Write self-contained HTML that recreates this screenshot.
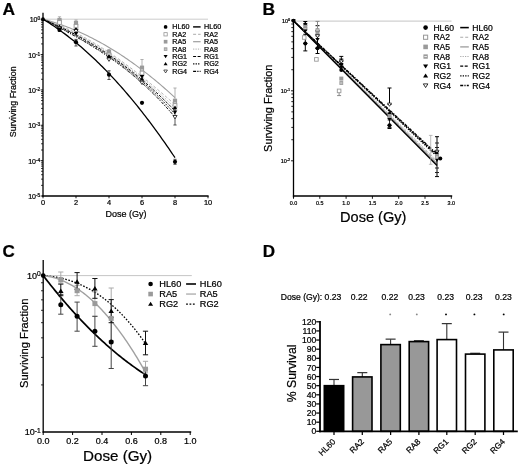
<!DOCTYPE html>
<html><head><meta charset="utf-8"><style>
html,body{margin:0;padding:0;background:#fff;}
svg{display:block;will-change:transform;}
text{font-family:"Liberation Sans",sans-serif;stroke:#000;stroke-width:0.22px;}
</style></head><body>
<svg width="520" height="467" viewBox="0 0 520 467" font-family="Liberation Sans, sans-serif">
<rect width="520" height="467" fill="#fff"/>
<line x1="43.00" y1="19.20" x2="208.00" y2="19.20" stroke="#c0c0c0" stroke-width="0.8" />
<line x1="43.00" y1="12.80" x2="43.00" y2="196.60" stroke="#000" stroke-width="1.3" />
<line x1="42.30" y1="196.00" x2="208.60" y2="196.00" stroke="#000" stroke-width="1.3" />
<line x1="43.00" y1="196.00" x2="43.00" y2="198.30" stroke="#000" stroke-width="0.9" />
<text x="43.00" y="205.40" font-size="7.4" text-anchor="middle" fill="#000" >0</text>
<line x1="76.00" y1="196.00" x2="76.00" y2="198.30" stroke="#000" stroke-width="0.9" />
<text x="76.00" y="205.40" font-size="7.4" text-anchor="middle" fill="#000" >2</text>
<line x1="109.00" y1="196.00" x2="109.00" y2="198.30" stroke="#000" stroke-width="0.9" />
<text x="109.00" y="205.40" font-size="7.4" text-anchor="middle" fill="#000" >4</text>
<line x1="142.00" y1="196.00" x2="142.00" y2="198.30" stroke="#000" stroke-width="0.9" />
<text x="142.00" y="205.40" font-size="7.4" text-anchor="middle" fill="#000" >6</text>
<line x1="175.00" y1="196.00" x2="175.00" y2="198.30" stroke="#000" stroke-width="0.9" />
<text x="175.00" y="205.40" font-size="7.4" text-anchor="middle" fill="#000" >8</text>
<line x1="208.00" y1="196.00" x2="208.00" y2="198.30" stroke="#000" stroke-width="0.9" />
<text x="208.00" y="205.40" font-size="7.4" text-anchor="middle" fill="#000" >10</text>
<line x1="40.60" y1="19.20" x2="43.00" y2="19.20" stroke="#000" stroke-width="0.9" />
<line x1="41.00" y1="43.92" x2="43.00" y2="43.92" stroke="#000" stroke-width="0.75" />
<line x1="41.00" y1="37.69" x2="43.00" y2="37.69" stroke="#000" stroke-width="0.75" />
<line x1="41.00" y1="33.27" x2="43.00" y2="33.27" stroke="#000" stroke-width="0.75" />
<line x1="41.00" y1="29.84" x2="43.00" y2="29.84" stroke="#000" stroke-width="0.75" />
<line x1="41.00" y1="27.04" x2="43.00" y2="27.04" stroke="#000" stroke-width="0.75" />
<line x1="41.00" y1="24.68" x2="43.00" y2="24.68" stroke="#000" stroke-width="0.75" />
<line x1="41.00" y1="22.63" x2="43.00" y2="22.63" stroke="#000" stroke-width="0.75" />
<line x1="41.00" y1="20.82" x2="43.00" y2="20.82" stroke="#000" stroke-width="0.75" />
<text x="40.20" y="22.14" font-size="7.0" text-anchor="end">10<tspan font-size="4.8" dy="-1.96">0</tspan></text>
<line x1="40.60" y1="54.56" x2="43.00" y2="54.56" stroke="#000" stroke-width="0.9" />
<line x1="41.00" y1="79.28" x2="43.00" y2="79.28" stroke="#000" stroke-width="0.75" />
<line x1="41.00" y1="73.05" x2="43.00" y2="73.05" stroke="#000" stroke-width="0.75" />
<line x1="41.00" y1="68.63" x2="43.00" y2="68.63" stroke="#000" stroke-width="0.75" />
<line x1="41.00" y1="65.20" x2="43.00" y2="65.20" stroke="#000" stroke-width="0.75" />
<line x1="41.00" y1="62.40" x2="43.00" y2="62.40" stroke="#000" stroke-width="0.75" />
<line x1="41.00" y1="60.04" x2="43.00" y2="60.04" stroke="#000" stroke-width="0.75" />
<line x1="41.00" y1="57.99" x2="43.00" y2="57.99" stroke="#000" stroke-width="0.75" />
<line x1="41.00" y1="56.18" x2="43.00" y2="56.18" stroke="#000" stroke-width="0.75" />
<text x="40.20" y="57.50" font-size="7.0" text-anchor="end">10<tspan font-size="4.8" dy="-1.96">-1</tspan></text>
<line x1="40.60" y1="89.92" x2="43.00" y2="89.92" stroke="#000" stroke-width="0.9" />
<line x1="41.00" y1="114.64" x2="43.00" y2="114.64" stroke="#000" stroke-width="0.75" />
<line x1="41.00" y1="108.41" x2="43.00" y2="108.41" stroke="#000" stroke-width="0.75" />
<line x1="41.00" y1="103.99" x2="43.00" y2="103.99" stroke="#000" stroke-width="0.75" />
<line x1="41.00" y1="100.56" x2="43.00" y2="100.56" stroke="#000" stroke-width="0.75" />
<line x1="41.00" y1="97.76" x2="43.00" y2="97.76" stroke="#000" stroke-width="0.75" />
<line x1="41.00" y1="95.40" x2="43.00" y2="95.40" stroke="#000" stroke-width="0.75" />
<line x1="41.00" y1="93.35" x2="43.00" y2="93.35" stroke="#000" stroke-width="0.75" />
<line x1="41.00" y1="91.54" x2="43.00" y2="91.54" stroke="#000" stroke-width="0.75" />
<text x="40.20" y="92.86" font-size="7.0" text-anchor="end">10<tspan font-size="4.8" dy="-1.96">-2</tspan></text>
<line x1="40.60" y1="125.28" x2="43.00" y2="125.28" stroke="#000" stroke-width="0.9" />
<line x1="41.00" y1="150.00" x2="43.00" y2="150.00" stroke="#000" stroke-width="0.75" />
<line x1="41.00" y1="143.77" x2="43.00" y2="143.77" stroke="#000" stroke-width="0.75" />
<line x1="41.00" y1="139.35" x2="43.00" y2="139.35" stroke="#000" stroke-width="0.75" />
<line x1="41.00" y1="135.92" x2="43.00" y2="135.92" stroke="#000" stroke-width="0.75" />
<line x1="41.00" y1="133.12" x2="43.00" y2="133.12" stroke="#000" stroke-width="0.75" />
<line x1="41.00" y1="130.76" x2="43.00" y2="130.76" stroke="#000" stroke-width="0.75" />
<line x1="41.00" y1="128.71" x2="43.00" y2="128.71" stroke="#000" stroke-width="0.75" />
<line x1="41.00" y1="126.90" x2="43.00" y2="126.90" stroke="#000" stroke-width="0.75" />
<text x="40.20" y="128.22" font-size="7.0" text-anchor="end">10<tspan font-size="4.8" dy="-1.96">-3</tspan></text>
<line x1="40.60" y1="160.64" x2="43.00" y2="160.64" stroke="#000" stroke-width="0.9" />
<line x1="41.00" y1="185.36" x2="43.00" y2="185.36" stroke="#000" stroke-width="0.75" />
<line x1="41.00" y1="179.13" x2="43.00" y2="179.13" stroke="#000" stroke-width="0.75" />
<line x1="41.00" y1="174.71" x2="43.00" y2="174.71" stroke="#000" stroke-width="0.75" />
<line x1="41.00" y1="171.28" x2="43.00" y2="171.28" stroke="#000" stroke-width="0.75" />
<line x1="41.00" y1="168.48" x2="43.00" y2="168.48" stroke="#000" stroke-width="0.75" />
<line x1="41.00" y1="166.12" x2="43.00" y2="166.12" stroke="#000" stroke-width="0.75" />
<line x1="41.00" y1="164.07" x2="43.00" y2="164.07" stroke="#000" stroke-width="0.75" />
<line x1="41.00" y1="162.26" x2="43.00" y2="162.26" stroke="#000" stroke-width="0.75" />
<text x="40.20" y="163.58" font-size="7.0" text-anchor="end">10<tspan font-size="4.8" dy="-1.96">-4</tspan></text>
<line x1="40.60" y1="196.00" x2="43.00" y2="196.00" stroke="#000" stroke-width="0.9" />
<text x="40.20" y="198.94" font-size="7.0" text-anchor="end">10<tspan font-size="4.8" dy="-1.96">-5</tspan></text>
<text transform="translate(16.2,101.8) rotate(-90)" font-size="8.85" text-anchor="middle">Surviving Fraction</text>
<text x="126.00" y="216.50" font-size="9.0" text-anchor="middle" fill="#000" >Dose (Gy)</text>
<text transform="translate(2.5,15.0) scale(1.1,1)" font-size="15.8" font-weight="bold">A</text>
<path d="M43.00,19.20 L44.65,19.74 L46.30,20.30 L47.95,20.87 L49.60,21.46 L51.25,22.06 L52.90,22.69 L54.55,23.32 L56.20,23.98 L57.85,24.64 L59.50,25.33 L61.15,26.03 L62.80,26.74 L64.45,27.47 L66.10,28.22 L67.75,28.97 L69.40,29.75 L71.05,30.54 L72.70,31.34 L74.35,32.16 L76.00,32.99 L77.65,33.84 L79.30,34.70 L80.95,35.57 L82.60,36.46 L84.25,37.36 L85.90,38.28 L87.55,39.21 L89.20,40.15 L90.85,41.10 L92.50,42.07 L94.15,43.05 L95.80,44.05 L97.45,45.06 L99.10,46.08 L100.75,47.11 L102.40,48.15 L104.05,49.21 L105.70,50.28 L107.35,51.36 L109.00,52.46 L110.65,53.56 L112.30,54.68 L113.95,55.81 L115.60,56.95 L117.25,58.10 L118.90,59.26 L120.55,60.43 L122.20,61.62 L123.85,62.82 L125.50,64.02 L127.15,65.24 L128.80,66.47 L130.45,67.71 L132.10,68.95 L133.75,70.21 L135.40,71.48 L137.05,72.76 L138.70,74.05 L140.35,75.35 L142.00,76.66 L143.65,77.97 L145.30,79.30 L146.95,80.64 L148.60,81.98 L150.25,83.34 L151.90,84.70 L153.55,86.07 L155.20,87.45 L156.85,88.84 L158.50,90.24 L160.15,91.65 L161.80,93.06 L163.45,94.48 L165.10,95.91 L166.75,97.35 L168.40,98.80 L170.05,100.25 L171.70,101.71 L173.35,103.18 L175.00,104.66" fill="none" stroke="#aaa" stroke-width="0.9" stroke-dasharray="3,2"/>
<path d="M43.00,19.20 L44.65,19.64 L46.30,20.09 L47.95,20.56 L49.60,21.04 L51.25,21.53 L52.90,22.04 L54.55,22.56 L56.20,23.09 L57.85,23.64 L59.50,24.20 L61.15,24.78 L62.80,25.37 L64.45,25.97 L66.10,26.59 L67.75,27.22 L69.40,27.86 L71.05,28.52 L72.70,29.19 L74.35,29.88 L76.00,30.58 L77.65,31.29 L79.30,32.02 L80.95,32.76 L82.60,33.51 L84.25,34.28 L85.90,35.06 L87.55,35.86 L89.20,36.66 L90.85,37.49 L92.50,38.32 L94.15,39.17 L95.80,40.04 L97.45,40.92 L99.10,41.81 L100.75,42.71 L102.40,43.63 L104.05,44.56 L105.70,45.51 L107.35,46.47 L109.00,47.44 L110.65,48.43 L112.30,49.43 L113.95,50.45 L115.60,51.48 L117.25,52.52 L118.90,53.58 L120.55,54.65 L122.20,55.73 L123.85,56.83 L125.50,57.94 L127.15,59.06 L128.80,60.20 L130.45,61.35 L132.10,62.52 L133.75,63.70 L135.40,64.89 L137.05,66.10 L138.70,67.32 L140.35,68.55 L142.00,69.80 L143.65,71.07 L145.30,72.34 L146.95,73.63 L148.60,74.93 L150.25,76.25 L151.90,77.58 L153.55,78.93 L155.20,80.28 L156.85,81.66 L158.50,83.04 L160.15,84.44 L161.80,85.85 L163.45,87.28 L165.10,88.72 L166.75,90.18 L168.40,91.64 L170.05,93.13 L171.70,94.62 L173.35,96.13 L175.00,97.65" fill="none" stroke="#9e9e9e" stroke-width="1.1"/>
<path d="M43.00,19.20 L44.65,19.82 L46.30,20.45 L47.95,21.09 L49.60,21.75 L51.25,22.42 L52.90,23.10 L54.55,23.79 L56.20,24.50 L57.85,25.21 L59.50,25.94 L61.15,26.69 L62.80,27.44 L64.45,28.21 L66.10,28.99 L67.75,29.78 L69.40,30.59 L71.05,31.41 L72.70,32.24 L74.35,33.08 L76.00,33.93 L77.65,34.80 L79.30,35.68 L80.95,36.57 L82.60,37.48 L84.25,38.39 L85.90,39.32 L87.55,40.26 L89.20,41.22 L90.85,42.18 L92.50,43.16 L94.15,44.15 L95.80,45.16 L97.45,46.17 L99.10,47.20 L100.75,48.24 L102.40,49.29 L104.05,50.36 L105.70,51.43 L107.35,52.52 L109.00,53.62 L110.65,54.74 L112.30,55.87 L113.95,57.00 L115.60,58.15 L117.25,59.32 L118.90,60.49 L120.55,61.68 L122.20,62.88 L123.85,64.09 L125.50,65.32 L127.15,66.56 L128.80,67.80 L130.45,69.07 L132.10,70.34 L133.75,71.63 L135.40,72.92 L137.05,74.23 L138.70,75.56 L140.35,76.89 L142.00,78.24 L143.65,79.60 L145.30,80.97 L146.95,82.35 L148.60,83.75 L150.25,85.16 L151.90,86.58 L153.55,88.01 L155.20,89.45 L156.85,90.91 L158.50,92.38 L160.15,93.86 L161.80,95.35 L163.45,96.86 L165.10,98.38 L166.75,99.91 L168.40,101.45 L170.05,103.00 L171.70,104.57 L173.35,106.15 L175.00,107.74" fill="none" stroke="#aaa" stroke-width="0.9" stroke-dasharray="1.2,1.2"/>
<path d="M43.00,19.20 L44.65,19.90 L46.30,20.60 L47.95,21.31 L49.60,22.04 L51.25,22.77 L52.90,23.51 L54.55,24.26 L56.20,25.02 L57.85,25.78 L59.50,26.56 L61.15,27.35 L62.80,28.14 L64.45,28.95 L66.10,29.77 L67.75,30.59 L69.40,31.43 L71.05,32.28 L72.70,33.13 L74.35,34.00 L76.00,34.88 L77.65,35.76 L79.30,36.66 L80.95,37.57 L82.60,38.49 L84.25,39.43 L85.90,40.37 L87.55,41.32 L89.20,42.29 L90.85,43.26 L92.50,44.25 L94.15,45.25 L95.80,46.27 L97.45,47.29 L99.10,48.33 L100.75,49.37 L102.40,50.43 L104.05,51.51 L105.70,52.59 L107.35,53.69 L109.00,54.80 L110.65,55.93 L112.30,57.06 L113.95,58.21 L115.60,59.37 L117.25,60.55 L118.90,61.74 L120.55,62.94 L122.20,64.16 L123.85,65.39 L125.50,66.63 L127.15,67.89 L128.80,69.16 L130.45,70.44 L132.10,71.74 L133.75,73.06 L135.40,74.39 L137.05,75.73 L138.70,77.09 L140.35,78.46 L142.00,79.85 L143.65,81.25 L145.30,82.67 L146.95,84.10 L148.60,85.55 L150.25,87.01 L151.90,88.49 L153.55,89.98 L155.20,91.49 L156.85,93.02 L158.50,94.56 L160.15,96.12 L161.80,97.69 L163.45,99.28 L165.10,100.89 L166.75,102.51 L168.40,104.15 L170.05,105.81 L171.70,107.48 L173.35,109.17 L175.00,110.88" fill="none" stroke="#000" stroke-width="0.9900000000000001" stroke-dasharray="3,1.5"/>
<path d="M43.00,19.20 L44.65,19.97 L46.30,20.75 L47.95,21.54 L49.60,22.33 L51.25,23.12 L52.90,23.92 L54.55,24.73 L56.20,25.54 L57.85,26.35 L59.50,27.18 L61.15,28.01 L62.80,28.85 L64.45,29.69 L66.10,30.54 L67.75,31.40 L69.40,32.27 L71.05,33.14 L72.70,34.03 L74.35,34.92 L76.00,35.82 L77.65,36.73 L79.30,37.65 L80.95,38.57 L82.60,39.51 L84.25,40.46 L85.90,41.41 L87.55,42.38 L89.20,43.36 L90.85,44.35 L92.50,45.35 L94.15,46.36 L95.80,47.38 L97.45,48.41 L99.10,49.45 L100.75,50.51 L102.40,51.58 L104.05,52.66 L105.70,53.75 L107.35,54.86 L109.00,55.98 L110.65,57.11 L112.30,58.26 L113.95,59.42 L115.60,60.59 L117.25,61.78 L118.90,62.98 L120.55,64.20 L122.20,65.43 L123.85,66.68 L125.50,67.94 L127.15,69.22 L128.80,70.52 L130.45,71.83 L132.10,73.15 L133.75,74.49 L135.40,75.85 L137.05,77.23 L138.70,78.62 L140.35,80.03 L142.00,81.46 L143.65,82.91 L145.30,84.37 L146.95,85.85 L148.60,87.35 L150.25,88.87 L151.90,90.41 L153.55,91.96 L155.20,93.54 L156.85,95.13 L158.50,96.75 L160.15,98.38 L161.80,100.04 L163.45,101.71 L165.10,103.41 L166.75,105.13 L168.40,106.87 L170.05,108.63 L171.70,110.41 L173.35,112.21 L175.00,114.03" fill="none" stroke="#000" stroke-width="0.9900000000000001" stroke-dasharray="1.3,1.2"/>
<path d="M43.00,19.20 L44.65,20.05 L46.30,20.91 L47.95,21.76 L49.60,22.61 L51.25,23.47 L52.90,24.33 L54.55,25.19 L56.20,26.06 L57.85,26.92 L59.50,27.79 L61.15,28.67 L62.80,29.55 L64.45,30.43 L66.10,31.32 L67.75,32.21 L69.40,33.11 L71.05,34.01 L72.70,34.92 L74.35,35.84 L76.00,36.76 L77.65,37.69 L79.30,38.63 L80.95,39.58 L82.60,40.53 L84.25,41.49 L85.90,42.46 L87.55,43.44 L89.20,44.43 L90.85,45.43 L92.50,46.44 L94.15,47.46 L95.80,48.49 L97.45,49.53 L99.10,50.58 L100.75,51.65 L102.40,52.72 L104.05,53.81 L105.70,54.91 L107.35,56.03 L109.00,57.16 L110.65,58.30 L112.30,59.46 L113.95,60.63 L115.60,61.81 L117.25,63.01 L118.90,64.23 L120.55,65.46 L122.20,66.71 L123.85,67.97 L125.50,69.26 L127.15,70.55 L128.80,71.87 L130.45,73.20 L132.10,74.56 L133.75,75.93 L135.40,77.32 L137.05,78.72 L138.70,80.15 L140.35,81.60 L142.00,83.07 L143.65,84.56 L145.30,86.07 L146.95,87.60 L148.60,89.15 L150.25,90.72 L151.90,92.32 L153.55,93.94 L155.20,95.58 L156.85,97.24 L158.50,98.93 L160.15,100.64 L161.80,102.38 L163.45,104.14 L165.10,105.93 L166.75,107.74 L168.40,109.57 L170.05,111.43 L171.70,113.32 L173.35,115.24 L175.00,117.18" fill="none" stroke="#000" stroke-width="0.9900000000000001" stroke-dasharray="3,1.2,1.2,1.2"/>
<path d="M43.00,19.20 L44.65,20.20 L46.30,21.21 L47.95,22.25 L49.60,23.30 L51.25,24.37 L52.90,25.46 L54.55,26.57 L56.20,27.70 L57.85,28.85 L59.50,30.01 L61.15,31.19 L62.80,32.40 L64.45,33.62 L66.10,34.86 L67.75,36.11 L69.40,37.39 L71.05,38.68 L72.70,40.00 L74.35,41.33 L76.00,42.68 L77.65,44.05 L79.30,45.44 L80.95,46.84 L82.60,48.27 L84.25,49.71 L85.90,51.17 L87.55,52.65 L89.20,54.15 L90.85,55.67 L92.50,57.21 L94.15,58.76 L95.80,60.34 L97.45,61.93 L99.10,63.54 L100.75,65.17 L102.40,66.82 L104.05,68.48 L105.70,70.17 L107.35,71.87 L109.00,73.59 L110.65,75.33 L112.30,77.09 L113.95,78.87 L115.60,80.67 L117.25,82.48 L118.90,84.32 L120.55,86.17 L122.20,88.04 L123.85,89.93 L125.50,91.84 L127.15,93.76 L128.80,95.71 L130.45,97.67 L132.10,99.65 L133.75,101.66 L135.40,103.68 L137.05,105.71 L138.70,107.77 L140.35,109.85 L142.00,111.94 L143.65,114.05 L145.30,116.18 L146.95,118.33 L148.60,120.50 L150.25,122.69 L151.90,124.89 L153.55,127.12 L155.20,129.36 L156.85,131.62 L158.50,133.90 L160.15,136.20 L161.80,138.51 L163.45,140.85 L165.10,143.20 L166.75,145.58 L168.40,147.97 L170.05,150.38 L171.70,152.80 L173.35,155.25 L175.00,157.72" fill="none" stroke="#000" stroke-width="1.3"/>
<line x1="59.50" y1="16.80" x2="59.50" y2="22.50" stroke="#999" stroke-width="0.75" />
<line x1="57.90" y1="16.80" x2="61.10" y2="16.80" stroke="#999" stroke-width="0.75" />
<line x1="57.90" y1="22.50" x2="61.10" y2="22.50" stroke="#999" stroke-width="0.75" />
<line x1="59.50" y1="28.50" x2="59.50" y2="31.50" stroke="#222" stroke-width="0.75" />
<line x1="57.90" y1="28.50" x2="61.10" y2="28.50" stroke="#222" stroke-width="0.75" />
<line x1="57.90" y1="31.50" x2="61.10" y2="31.50" stroke="#222" stroke-width="0.75" />
<rect x="57.40" y="17.90" width="4.20" height="4.20" fill="#9a9a9a"/>
<rect x="57.51" y="19.50" width="3.99" height="3.99" fill="#9a9a9a"/>
<rect x="58.30" y="21.00" width="2.39" height="1.00" fill="#e8e8e8"/>
<rect x="57.61" y="20.61" width="3.78" height="3.78" fill="#fff" stroke="#9a9a9a" stroke-width="0.95"/>
<path d="M57.19,28.12 L61.81,28.12 L59.50,24.42 Z" fill="#000"/>
<path d="M57.40,26.53 L61.60,26.53 L59.50,29.89 Z" fill="#fff" stroke="#000" stroke-width="0.73"/>
<path d="M57.19,27.38 L61.81,27.38 L59.50,31.08 Z" fill="#000"/>
<circle cx="59.50" cy="30.00" r="2.10" fill="#000"/>
<line x1="76.00" y1="20.00" x2="76.00" y2="25.50" stroke="#999" stroke-width="0.75" />
<line x1="74.40" y1="20.00" x2="77.60" y2="20.00" stroke="#999" stroke-width="0.75" />
<line x1="74.40" y1="25.50" x2="77.60" y2="25.50" stroke="#999" stroke-width="0.75" />
<line x1="76.00" y1="39.40" x2="76.00" y2="46.00" stroke="#222" stroke-width="0.75" />
<line x1="74.40" y1="39.40" x2="77.60" y2="39.40" stroke="#222" stroke-width="0.75" />
<line x1="74.40" y1="46.00" x2="77.60" y2="46.00" stroke="#222" stroke-width="0.75" />
<rect x="73.90" y="20.90" width="4.20" height="4.20" fill="#9a9a9a"/>
<rect x="74.00" y="22.80" width="3.99" height="3.99" fill="#9a9a9a"/>
<rect x="74.80" y="24.30" width="2.39" height="1.00" fill="#e8e8e8"/>
<rect x="74.11" y="24.41" width="3.78" height="3.78" fill="#fff" stroke="#9a9a9a" stroke-width="0.95"/>
<path d="M73.69,30.62 L78.31,30.62 L76.00,26.92 Z" fill="#000"/>
<path d="M73.90,29.53 L78.10,29.53 L76.00,32.89 Z" fill="#fff" stroke="#000" stroke-width="0.73"/>
<path d="M73.69,31.88 L78.31,31.88 L76.00,35.58 Z" fill="#000"/>
<circle cx="76.00" cy="42.20" r="2.10" fill="#000"/>
<line x1="109.00" y1="49.50" x2="109.00" y2="54.00" stroke="#999" stroke-width="0.75" />
<line x1="107.40" y1="49.50" x2="110.60" y2="49.50" stroke="#999" stroke-width="0.75" />
<line x1="107.40" y1="54.00" x2="110.60" y2="54.00" stroke="#999" stroke-width="0.75" />
<line x1="109.00" y1="70.80" x2="109.00" y2="79.50" stroke="#222" stroke-width="0.75" />
<line x1="107.40" y1="70.80" x2="110.60" y2="70.80" stroke="#222" stroke-width="0.75" />
<line x1="107.40" y1="79.50" x2="110.60" y2="79.50" stroke="#222" stroke-width="0.75" />
<rect x="106.90" y="49.90" width="4.20" height="4.20" fill="#9a9a9a"/>
<rect x="107.00" y="51.51" width="3.99" height="3.99" fill="#9a9a9a"/>
<rect x="107.80" y="53.00" width="2.39" height="1.00" fill="#e8e8e8"/>
<rect x="107.11" y="53.11" width="3.78" height="3.78" fill="#fff" stroke="#9a9a9a" stroke-width="0.95"/>
<path d="M106.69,57.62 L111.31,57.62 L109.00,53.92 Z" fill="#000"/>
<path d="M106.69,56.38 L111.31,56.38 L109.00,60.08 Z" fill="#000"/>
<path d="M106.90,58.03 L111.10,58.03 L109.00,61.39 Z" fill="#fff" stroke="#000" stroke-width="0.73"/>
<circle cx="109.00" cy="74.70" r="2.10" fill="#000"/>
<line x1="142.00" y1="59.50" x2="142.00" y2="71.50" stroke="#999" stroke-width="0.75" />
<line x1="140.40" y1="59.50" x2="143.60" y2="59.50" stroke="#999" stroke-width="0.75" />
<line x1="140.40" y1="71.50" x2="143.60" y2="71.50" stroke="#999" stroke-width="0.75" />
<rect x="139.90" y="65.60" width="4.20" height="4.20" fill="#9a9a9a"/>
<rect x="140.00" y="68.00" width="3.99" height="3.99" fill="#9a9a9a"/>
<rect x="140.80" y="69.50" width="2.39" height="1.00" fill="#e8e8e8"/>
<rect x="140.11" y="71.11" width="3.78" height="3.78" fill="#fff" stroke="#9a9a9a" stroke-width="0.95"/>
<path d="M139.69,75.08 L144.31,75.08 L142.00,78.78 Z" fill="#000"/>
<path d="M139.69,80.62 L144.31,80.62 L142.00,76.92 Z" fill="#000"/>
<path d="M139.90,81.23 L144.10,81.23 L142.00,84.59 Z" fill="#fff" stroke="#000" stroke-width="0.73"/>
<circle cx="142.00" cy="102.80" r="2.10" fill="#000"/>
<line x1="175.00" y1="88.00" x2="175.00" y2="112.00" stroke="#999" stroke-width="0.75" />
<line x1="173.40" y1="88.00" x2="176.60" y2="88.00" stroke="#999" stroke-width="0.75" />
<line x1="173.40" y1="112.00" x2="176.60" y2="112.00" stroke="#999" stroke-width="0.75" />
<line x1="175.00" y1="100.00" x2="175.00" y2="125.00" stroke="#222" stroke-width="0.75" />
<line x1="173.40" y1="100.00" x2="176.60" y2="100.00" stroke="#222" stroke-width="0.75" />
<line x1="173.40" y1="125.00" x2="176.60" y2="125.00" stroke="#222" stroke-width="0.75" />
<line x1="175.00" y1="159.30" x2="175.00" y2="164.30" stroke="#222" stroke-width="0.75" />
<line x1="173.40" y1="159.30" x2="176.60" y2="159.30" stroke="#222" stroke-width="0.75" />
<line x1="173.40" y1="164.30" x2="176.60" y2="164.30" stroke="#222" stroke-width="0.75" />
<rect x="172.90" y="98.70" width="4.20" height="4.20" fill="#9a9a9a"/>
<rect x="173.00" y="101.00" width="3.99" height="3.99" fill="#9a9a9a"/>
<rect x="173.80" y="102.50" width="2.39" height="1.00" fill="#e8e8e8"/>
<rect x="173.11" y="103.61" width="3.78" height="3.78" fill="#fff" stroke="#9a9a9a" stroke-width="0.95"/>
<path d="M172.69,109.22 L177.31,109.22 L175.00,105.52 Z" fill="#000"/>
<path d="M172.69,110.38 L177.31,110.38 L175.00,114.08 Z" fill="#000"/>
<path d="M172.90,115.53 L177.10,115.53 L175.00,118.89 Z" fill="#fff" stroke="#000" stroke-width="0.73"/>
<circle cx="175.00" cy="161.80" r="2.10" fill="#000"/>
<circle cx="43.00" cy="19.20" r="1.90" fill="#000"/>
<circle cx="165.60" cy="26.90" r="1.84" fill="#000"/>
<text x="172.30" y="29.49" font-size="7.2" text-anchor="start" fill="#000" >HL60</text>
<line x1="193.10" y1="26.90" x2="200.60" y2="26.90" stroke="#000" stroke-width="1.4300000000000002" />
<text x="204.00" y="29.49" font-size="7.2" text-anchor="start" fill="#000" >HL60</text>
<rect x="163.94" y="32.64" width="3.31" height="3.31" fill="#fff" stroke="#9a9a9a" stroke-width="0.83"/>
<text x="172.30" y="36.89" font-size="7.2" text-anchor="start" fill="#000" >RA2</text>
<line x1="193.10" y1="34.30" x2="200.60" y2="34.30" stroke="#aaa" stroke-width="0.9900000000000001" stroke-dasharray="3,2"/>
<text x="204.00" y="36.89" font-size="7.2" text-anchor="start" fill="#000" >RA2</text>
<rect x="163.76" y="39.86" width="3.68" height="3.68" fill="#9a9a9a"/>
<text x="172.30" y="44.29" font-size="7.2" text-anchor="start" fill="#000" >RA5</text>
<line x1="193.10" y1="41.70" x2="200.60" y2="41.70" stroke="#9e9e9e" stroke-width="1.2100000000000002" />
<text x="204.00" y="44.29" font-size="7.2" text-anchor="start" fill="#000" >RA5</text>
<rect x="163.85" y="47.35" width="3.50" height="3.50" fill="#9a9a9a"/>
<rect x="164.55" y="48.66" width="2.10" height="0.87" fill="#e8e8e8"/>
<text x="172.30" y="51.69" font-size="7.2" text-anchor="start" fill="#000" >RA8</text>
<line x1="193.10" y1="49.10" x2="200.60" y2="49.10" stroke="#aaa" stroke-width="0.9900000000000001" stroke-dasharray="1.2,1.2"/>
<text x="204.00" y="51.69" font-size="7.2" text-anchor="start" fill="#000" >RA8</text>
<path d="M163.58,55.08 L167.62,55.08 L165.60,58.32 Z" fill="#000"/>
<text x="172.30" y="59.09" font-size="7.2" text-anchor="start" fill="#000" >RG1</text>
<line x1="193.10" y1="56.50" x2="200.60" y2="56.50" stroke="#000" stroke-width="1.2100000000000002" stroke-dasharray="3,1.5"/>
<text x="204.00" y="59.09" font-size="7.2" text-anchor="start" fill="#000" >RG1</text>
<path d="M163.58,65.32 L167.62,65.32 L165.60,62.08 Z" fill="#000"/>
<text x="172.30" y="66.49" font-size="7.2" text-anchor="start" fill="#000" >RG2</text>
<line x1="193.10" y1="63.90" x2="200.60" y2="63.90" stroke="#000" stroke-width="1.2100000000000002" stroke-dasharray="1.3,1.2"/>
<text x="204.00" y="66.49" font-size="7.2" text-anchor="start" fill="#000" >RG2</text>
<path d="M163.76,70.01 L167.44,70.01 L165.60,72.96 Z" fill="#fff" stroke="#000" stroke-width="0.64"/>
<text x="172.30" y="73.89" font-size="7.2" text-anchor="start" fill="#000" >RG4</text>
<line x1="193.10" y1="71.30" x2="200.60" y2="71.30" stroke="#000" stroke-width="1.2100000000000002" stroke-dasharray="3,1.2,1.2,1.2"/>
<text x="204.00" y="73.89" font-size="7.2" text-anchor="start" fill="#000" >RG4</text>
<line x1="293.50" y1="21.10" x2="451.50" y2="21.10" stroke="#bdbdbd" stroke-width="0.9" />
<line x1="293.50" y1="19.80" x2="293.50" y2="197.50" stroke="#000" stroke-width="1.3" />
<line x1="292.90" y1="196.00" x2="452.20" y2="196.00" stroke="#000" stroke-width="1.3" />
<line x1="293.50" y1="196.00" x2="293.50" y2="198.80" stroke="#000" stroke-width="0.9" />
<text x="293.50" y="204.50" font-size="5.4" text-anchor="middle" fill="#000" >0.0</text>
<line x1="319.80" y1="196.00" x2="319.80" y2="198.80" stroke="#000" stroke-width="0.9" />
<text x="319.80" y="204.50" font-size="5.4" text-anchor="middle" fill="#000" >0.5</text>
<line x1="346.10" y1="196.00" x2="346.10" y2="198.80" stroke="#000" stroke-width="0.9" />
<text x="346.10" y="204.50" font-size="5.4" text-anchor="middle" fill="#000" >1.0</text>
<line x1="372.40" y1="196.00" x2="372.40" y2="198.80" stroke="#000" stroke-width="0.9" />
<text x="372.40" y="204.50" font-size="5.4" text-anchor="middle" fill="#000" >1.5</text>
<line x1="398.70" y1="196.00" x2="398.70" y2="198.80" stroke="#000" stroke-width="0.9" />
<text x="398.70" y="204.50" font-size="5.4" text-anchor="middle" fill="#000" >2.0</text>
<line x1="425.00" y1="196.00" x2="425.00" y2="198.80" stroke="#000" stroke-width="0.9" />
<text x="425.00" y="204.50" font-size="5.4" text-anchor="middle" fill="#000" >2.5</text>
<line x1="451.30" y1="196.00" x2="451.30" y2="198.80" stroke="#000" stroke-width="0.9" />
<text x="451.30" y="204.50" font-size="5.4" text-anchor="middle" fill="#000" >3.0</text>
<line x1="291.00" y1="20.80" x2="293.50" y2="20.80" stroke="#000" stroke-width="0.9" />
<text x="290.20" y="22.78" font-size="5.5" text-anchor="end">10<tspan font-size="3.8" dy="-1.65">0</tspan></text>
<line x1="291.00" y1="90.80" x2="293.50" y2="90.80" stroke="#000" stroke-width="0.9" />
<text x="290.20" y="92.78" font-size="5.5" text-anchor="end">10<tspan font-size="3.8" dy="-1.65">-1</tspan></text>
<line x1="291.00" y1="160.80" x2="293.50" y2="160.80" stroke="#000" stroke-width="0.9" />
<text x="290.20" y="162.78" font-size="5.5" text-anchor="end">10<tspan font-size="3.8" dy="-1.65">-2</tspan></text>
<line x1="291.30" y1="69.73" x2="293.50" y2="69.73" stroke="#000" stroke-width="0.85" />
<line x1="291.30" y1="57.40" x2="293.50" y2="57.40" stroke="#000" stroke-width="0.85" />
<line x1="291.30" y1="48.66" x2="293.50" y2="48.66" stroke="#000" stroke-width="0.85" />
<line x1="291.30" y1="41.87" x2="293.50" y2="41.87" stroke="#000" stroke-width="0.85" />
<line x1="291.30" y1="36.33" x2="293.50" y2="36.33" stroke="#000" stroke-width="0.85" />
<line x1="291.30" y1="31.64" x2="293.50" y2="31.64" stroke="#000" stroke-width="0.85" />
<line x1="291.30" y1="27.58" x2="293.50" y2="27.58" stroke="#000" stroke-width="0.85" />
<line x1="291.30" y1="24.00" x2="293.50" y2="24.00" stroke="#000" stroke-width="0.85" />
<line x1="291.30" y1="139.73" x2="293.50" y2="139.73" stroke="#000" stroke-width="0.85" />
<line x1="291.30" y1="127.40" x2="293.50" y2="127.40" stroke="#000" stroke-width="0.85" />
<line x1="291.30" y1="118.66" x2="293.50" y2="118.66" stroke="#000" stroke-width="0.85" />
<line x1="291.30" y1="111.87" x2="293.50" y2="111.87" stroke="#000" stroke-width="0.85" />
<line x1="291.30" y1="106.33" x2="293.50" y2="106.33" stroke="#000" stroke-width="0.85" />
<line x1="291.30" y1="101.64" x2="293.50" y2="101.64" stroke="#000" stroke-width="0.85" />
<line x1="291.30" y1="97.58" x2="293.50" y2="97.58" stroke="#000" stroke-width="0.85" />
<line x1="291.30" y1="94.00" x2="293.50" y2="94.00" stroke="#000" stroke-width="0.85" />
<text transform="translate(272.0,108.3) rotate(-90)" font-size="10.9" text-anchor="middle">Surviving Fraction</text>
<text x="373.20" y="222.00" font-size="14.55" text-anchor="middle" fill="#000" >Dose (Gy)</text>
<text transform="translate(262.5,15.0) scale(1.1,1)" font-size="15.8" font-weight="bold">B</text>
<path d="M293.50,20.80 L437.00,162.15" fill="none" stroke="#aaa" stroke-width="0.9900000000000001" stroke-dasharray="3,2"/>
<path d="M293.50,20.80 L437.00,163.58" fill="none" stroke="#9e9e9e" stroke-width="1.2100000000000002"/>
<path d="M293.50,20.80 L437.00,160.71" fill="none" stroke="#aaa" stroke-width="0.9900000000000001" stroke-dasharray="1.2,1.2"/>
<path d="M293.50,20.80 L437.00,155.12" fill="none" stroke="#000" stroke-width="1.2100000000000002" stroke-dasharray="3,1.5"/>
<path d="M293.50,20.80 L437.00,156.41" fill="none" stroke="#000" stroke-width="1.2100000000000002" stroke-dasharray="1.3,1.2"/>
<path d="M293.50,20.80 L437.00,153.97" fill="none" stroke="#000" stroke-width="1.2100000000000002" stroke-dasharray="3,1.2,1.2,1.2"/>
<path d="M293.50,20.80 L437.00,165.45" fill="none" stroke="#000" stroke-width="1.4300000000000002"/>
<line x1="305.30" y1="21.50" x2="305.30" y2="23.60" stroke="#000" stroke-width="1.0" />
<line x1="303.30" y1="21.50" x2="307.30" y2="21.50" stroke="#000" stroke-width="1.0" />
<line x1="303.30" y1="23.60" x2="307.30" y2="23.60" stroke="#000" stroke-width="1.0" />
<line x1="305.30" y1="34.30" x2="305.30" y2="43.40" stroke="#000" stroke-width="1.0" />
<line x1="303.30" y1="34.30" x2="307.30" y2="34.30" stroke="#000" stroke-width="1.0" />
<line x1="303.30" y1="43.40" x2="307.30" y2="43.40" stroke="#000" stroke-width="1.0" />
<line x1="305.30" y1="43.40" x2="305.30" y2="50.90" stroke="#000" stroke-width="1.0" />
<line x1="303.30" y1="43.40" x2="307.30" y2="43.40" stroke="#000" stroke-width="1.0" />
<line x1="303.30" y1="50.90" x2="307.30" y2="50.90" stroke="#000" stroke-width="1.0" />
<line x1="317.50" y1="25.70" x2="317.50" y2="30.50" stroke="#000" stroke-width="1.0" />
<line x1="315.50" y1="25.70" x2="319.50" y2="25.70" stroke="#000" stroke-width="1.0" />
<line x1="315.50" y1="30.50" x2="319.50" y2="30.50" stroke="#000" stroke-width="1.0" />
<line x1="317.50" y1="21.40" x2="317.50" y2="30.00" stroke="#888" stroke-width="1.0" />
<line x1="315.50" y1="21.40" x2="319.50" y2="21.40" stroke="#888" stroke-width="1.0" />
<line x1="315.50" y1="30.00" x2="319.50" y2="30.00" stroke="#888" stroke-width="1.0" />
<line x1="317.50" y1="35.90" x2="317.50" y2="48.20" stroke="#000" stroke-width="1.0" />
<line x1="315.50" y1="35.90" x2="319.50" y2="35.90" stroke="#000" stroke-width="1.0" />
<line x1="315.50" y1="48.20" x2="319.50" y2="48.20" stroke="#000" stroke-width="1.0" />
<line x1="317.50" y1="48.20" x2="317.50" y2="53.50" stroke="#000" stroke-width="1.0" />
<line x1="315.50" y1="48.20" x2="319.50" y2="48.20" stroke="#000" stroke-width="1.0" />
<line x1="315.50" y1="53.50" x2="319.50" y2="53.50" stroke="#000" stroke-width="1.0" />
<line x1="341.30" y1="56.40" x2="341.30" y2="63.50" stroke="#000" stroke-width="1.0" />
<line x1="339.30" y1="56.40" x2="343.30" y2="56.40" stroke="#000" stroke-width="1.0" />
<line x1="339.30" y1="63.50" x2="343.30" y2="63.50" stroke="#000" stroke-width="1.0" />
<line x1="341.30" y1="59.10" x2="341.30" y2="61.50" stroke="#000" stroke-width="1.0" />
<line x1="339.30" y1="59.10" x2="343.30" y2="59.10" stroke="#000" stroke-width="1.0" />
<line x1="339.30" y1="61.50" x2="343.30" y2="61.50" stroke="#000" stroke-width="1.0" />
<line x1="339.10" y1="90.90" x2="339.10" y2="95.60" stroke="#888" stroke-width="1.0" />
<line x1="337.10" y1="90.90" x2="341.10" y2="90.90" stroke="#888" stroke-width="1.0" />
<line x1="337.10" y1="95.60" x2="341.10" y2="95.60" stroke="#888" stroke-width="1.0" />
<line x1="389.50" y1="88.00" x2="389.50" y2="104.50" stroke="#000" stroke-width="1.0" />
<line x1="387.50" y1="88.00" x2="391.50" y2="88.00" stroke="#000" stroke-width="1.0" />
<line x1="387.50" y1="104.50" x2="391.50" y2="104.50" stroke="#000" stroke-width="1.0" />
<line x1="389.50" y1="125.30" x2="389.50" y2="128.50" stroke="#000" stroke-width="1.0" />
<line x1="387.50" y1="125.30" x2="391.50" y2="125.30" stroke="#000" stroke-width="1.0" />
<line x1="387.50" y1="128.50" x2="391.50" y2="128.50" stroke="#000" stroke-width="1.0" />
<line x1="437.00" y1="136.70" x2="437.00" y2="151.70" stroke="#000" stroke-width="1.0" />
<line x1="435.00" y1="136.70" x2="439.00" y2="136.70" stroke="#000" stroke-width="1.0" />
<line x1="435.00" y1="151.70" x2="439.00" y2="151.70" stroke="#000" stroke-width="1.0" />
<line x1="437.00" y1="151.70" x2="437.00" y2="176.60" stroke="#000" stroke-width="1.0" />
<line x1="435.00" y1="151.70" x2="439.00" y2="151.70" stroke="#000" stroke-width="1.0" />
<line x1="435.00" y1="176.60" x2="439.00" y2="176.60" stroke="#000" stroke-width="1.0" />
<line x1="430.70" y1="135.40" x2="430.70" y2="164.30" stroke="#aaa" stroke-width="0.8" />
<line x1="428.90" y1="135.40" x2="432.50" y2="135.40" stroke="#aaa" stroke-width="0.8" />
<line x1="428.90" y1="164.30" x2="432.50" y2="164.30" stroke="#aaa" stroke-width="0.8" />
<line x1="435.00" y1="143.00" x2="439.00" y2="143.00" stroke="#222" stroke-width="1.0" />
<line x1="435.00" y1="147.50" x2="439.00" y2="147.50" stroke="#222" stroke-width="1.0" />
<line x1="435.00" y1="168.00" x2="439.00" y2="168.00" stroke="#222" stroke-width="1.0" />
<line x1="435.00" y1="172.50" x2="439.00" y2="172.50" stroke="#222" stroke-width="1.0" />
<line x1="389.50" y1="113.00" x2="389.50" y2="127.50" stroke="#333" stroke-width="1.0" />
<line x1="387.50" y1="113.00" x2="391.50" y2="113.00" stroke="#333" stroke-width="1.0" />
<line x1="387.50" y1="127.50" x2="391.50" y2="127.50" stroke="#333" stroke-width="1.0" />
<path d="M303.10,25.14 L307.50,25.14 L305.30,21.62 Z" fill="#000"/>
<rect x="303.30" y="24.80" width="4.00" height="4.00" fill="#9a9a9a"/>
<rect x="303.40" y="27.00" width="3.80" height="3.80" fill="#9a9a9a"/>
<rect x="304.16" y="28.42" width="2.28" height="0.95" fill="#e8e8e8"/>
<path d="M303.10,29.46 L307.50,29.46 L305.30,32.98 Z" fill="#000"/>
<rect x="302.40" y="35.70" width="3.60" height="3.60" fill="#fff" stroke="#9a9a9a" stroke-width="0.90"/>
<circle cx="305.30" cy="43.40" r="2.00" fill="#000"/>
<path d="M315.30,32.04 L319.70,32.04 L317.50,28.52 Z" fill="#000"/>
<rect x="315.60" y="28.10" width="3.80" height="3.80" fill="#9a9a9a"/>
<rect x="316.36" y="29.52" width="2.28" height="0.95" fill="#e8e8e8"/>
<rect x="315.50" y="32.00" width="4.00" height="4.00" fill="#9a9a9a"/>
<path d="M315.50,34.60 L319.50,34.60 L317.50,37.80 Z" fill="#fff" stroke="#000" stroke-width="0.70"/>
<path d="M315.30,38.06 L319.70,38.06 L317.50,41.58 Z" fill="#000"/>
<circle cx="317.50" cy="48.20" r="2.00" fill="#000"/>
<rect x="314.60" y="57.60" width="3.60" height="3.60" fill="#fff" stroke="#9a9a9a" stroke-width="0.90"/>
<path d="M339.10,65.04 L343.50,65.04 L341.30,61.52 Z" fill="#000"/>
<path d="M339.30,60.10 L343.30,60.10 L341.30,63.30 Z" fill="#fff" stroke="#000" stroke-width="0.70"/>
<path d="M339.10,65.46 L343.50,65.46 L341.30,68.98 Z" fill="#000"/>
<circle cx="341.30" cy="70.00" r="2.00" fill="#000"/>
<rect x="339.30" y="76.60" width="4.00" height="4.00" fill="#9a9a9a"/>
<rect x="339.40" y="81.10" width="3.80" height="3.80" fill="#9a9a9a"/>
<rect x="340.16" y="82.53" width="2.28" height="0.95" fill="#e8e8e8"/>
<rect x="337.30" y="89.10" width="3.60" height="3.60" fill="#fff" stroke="#9a9a9a" stroke-width="0.90"/>
<path d="M387.50,103.10 L391.50,103.10 L389.50,106.30 Z" fill="#fff" stroke="#000" stroke-width="0.70"/>
<path d="M387.30,114.54 L391.70,114.54 L389.50,111.02 Z" fill="#000"/>
<rect x="387.50" y="114.00" width="4.00" height="4.00" fill="#9a9a9a"/>
<rect x="387.60" y="117.10" width="3.80" height="3.80" fill="#9a9a9a"/>
<rect x="388.36" y="118.53" width="2.28" height="0.95" fill="#e8e8e8"/>
<path d="M387.30,117.96 L391.70,117.96 L389.50,121.48 Z" fill="#000"/>
<circle cx="389.50" cy="125.30" r="2.00" fill="#000"/>
<path d="M435.00,150.30 L439.00,150.30 L437.00,153.50 Z" fill="#fff" stroke="#000" stroke-width="0.70"/>
<path d="M434.80,154.54 L439.20,154.54 L437.00,151.02 Z" fill="#000"/>
<rect x="435.00" y="154.00" width="4.00" height="4.00" fill="#9a9a9a"/>
<path d="M434.80,158.46 L439.20,158.46 L437.00,161.98 Z" fill="#000"/>
<rect x="435.10" y="155.10" width="3.80" height="3.80" fill="#9a9a9a"/>
<rect x="435.86" y="156.53" width="2.28" height="0.95" fill="#e8e8e8"/>
<circle cx="440.30" cy="158.60" r="2.00" fill="#000"/>
<path d="M291.30,19.26 L295.70,19.26 L293.50,22.78 Z" fill="#000"/>
<circle cx="293.50" cy="20.80" r="2.00" fill="#000"/>
<circle cx="425.60" cy="27.60" r="2.30" fill="#000"/>
<text x="433.40" y="30.70" font-size="8.6" text-anchor="start" fill="#000" >HL60</text>
<line x1="460.20" y1="27.60" x2="468.80" y2="27.60" stroke="#000" stroke-width="1.56" />
<text x="472.30" y="30.70" font-size="8.6" text-anchor="start" fill="#000" >HL60</text>
<rect x="423.53" y="35.18" width="4.14" height="4.14" fill="#fff" stroke="#9a9a9a" stroke-width="1.03"/>
<text x="433.40" y="40.35" font-size="8.6" text-anchor="start" fill="#000" >RA2</text>
<line x1="460.20" y1="37.25" x2="468.80" y2="37.25" stroke="#aaa" stroke-width="1.08" stroke-dasharray="3,2"/>
<text x="472.30" y="40.35" font-size="8.6" text-anchor="start" fill="#000" >RA2</text>
<rect x="423.30" y="44.60" width="4.60" height="4.60" fill="#9a9a9a"/>
<text x="433.40" y="50.00" font-size="8.6" text-anchor="start" fill="#000" >RA5</text>
<line x1="460.20" y1="46.90" x2="468.80" y2="46.90" stroke="#9e9e9e" stroke-width="1.32" />
<text x="472.30" y="50.00" font-size="8.6" text-anchor="start" fill="#000" >RA5</text>
<rect x="423.42" y="54.37" width="4.37" height="4.37" fill="#9a9a9a"/>
<rect x="424.29" y="56.00" width="2.62" height="1.09" fill="#e8e8e8"/>
<text x="433.40" y="59.65" font-size="8.6" text-anchor="start" fill="#000" >RA8</text>
<line x1="460.20" y1="56.55" x2="468.80" y2="56.55" stroke="#aaa" stroke-width="1.08" stroke-dasharray="1.2,1.2"/>
<text x="472.30" y="59.65" font-size="8.6" text-anchor="start" fill="#000" >RA8</text>
<path d="M423.07,64.43 L428.13,64.43 L425.60,68.48 Z" fill="#000"/>
<text x="433.40" y="69.30" font-size="8.6" text-anchor="start" fill="#000" >RG1</text>
<line x1="460.20" y1="66.20" x2="468.80" y2="66.20" stroke="#000" stroke-width="1.32" stroke-dasharray="3,1.5"/>
<text x="472.30" y="69.30" font-size="8.6" text-anchor="start" fill="#000" >RG1</text>
<path d="M423.07,77.62 L428.13,77.62 L425.60,73.57 Z" fill="#000"/>
<text x="433.40" y="78.95" font-size="8.6" text-anchor="start" fill="#000" >RG2</text>
<line x1="460.20" y1="75.85" x2="468.80" y2="75.85" stroke="#000" stroke-width="1.32" stroke-dasharray="1.3,1.2"/>
<text x="472.30" y="78.95" font-size="8.6" text-anchor="start" fill="#000" >RG2</text>
<path d="M423.30,83.89 L427.90,83.89 L425.60,87.57 Z" fill="#fff" stroke="#000" stroke-width="0.80"/>
<text x="433.40" y="88.60" font-size="8.6" text-anchor="start" fill="#000" >RG4</text>
<line x1="460.20" y1="85.50" x2="468.80" y2="85.50" stroke="#000" stroke-width="1.32" stroke-dasharray="3,1.2,1.2,1.2"/>
<text x="472.30" y="88.60" font-size="8.6" text-anchor="start" fill="#000" >RG4</text>
<line x1="43.20" y1="275.60" x2="191.80" y2="275.60" stroke="#c0c0c0" stroke-width="0.9" />
<line x1="43.20" y1="260.00" x2="43.20" y2="432.50" stroke="#000" stroke-width="1.3" />
<line x1="42.60" y1="432.00" x2="191.20" y2="432.00" stroke="#000" stroke-width="1.3" />
<line x1="43.20" y1="432.00" x2="43.20" y2="435.00" stroke="#000" stroke-width="1.0" />
<text x="43.20" y="443.60" font-size="9.0" text-anchor="middle" fill="#000" >0.0</text>
<line x1="72.60" y1="432.00" x2="72.60" y2="435.00" stroke="#000" stroke-width="1.0" />
<text x="72.60" y="443.60" font-size="9.0" text-anchor="middle" fill="#000" >0.2</text>
<line x1="102.00" y1="432.00" x2="102.00" y2="435.00" stroke="#000" stroke-width="1.0" />
<text x="102.00" y="443.60" font-size="9.0" text-anchor="middle" fill="#000" >0.4</text>
<line x1="131.40" y1="432.00" x2="131.40" y2="435.00" stroke="#000" stroke-width="1.0" />
<text x="131.40" y="443.60" font-size="9.0" text-anchor="middle" fill="#000" >0.6</text>
<line x1="160.80" y1="432.00" x2="160.80" y2="435.00" stroke="#000" stroke-width="1.0" />
<text x="160.80" y="443.60" font-size="9.0" text-anchor="middle" fill="#000" >0.8</text>
<line x1="190.20" y1="432.00" x2="190.20" y2="435.00" stroke="#000" stroke-width="1.0" />
<text x="190.20" y="443.60" font-size="9.0" text-anchor="middle" fill="#000" >1.0</text>
<line x1="41.00" y1="384.92" x2="43.20" y2="384.92" stroke="#000" stroke-width="0.8" />
<line x1="41.00" y1="357.38" x2="43.20" y2="357.38" stroke="#000" stroke-width="0.8" />
<line x1="41.00" y1="337.84" x2="43.20" y2="337.84" stroke="#000" stroke-width="0.8" />
<line x1="41.00" y1="322.68" x2="43.20" y2="322.68" stroke="#000" stroke-width="0.8" />
<line x1="41.00" y1="310.30" x2="43.20" y2="310.30" stroke="#000" stroke-width="0.8" />
<line x1="41.00" y1="299.83" x2="43.20" y2="299.83" stroke="#000" stroke-width="0.8" />
<line x1="41.00" y1="290.76" x2="43.20" y2="290.76" stroke="#000" stroke-width="0.8" />
<line x1="41.00" y1="282.76" x2="43.20" y2="282.76" stroke="#000" stroke-width="0.8" />
<text x="40.60" y="279.02" font-size="9.0" text-anchor="end">10<tspan font-size="6.6" dy="-2.70">0</tspan></text>
<text x="40.60" y="435.42" font-size="9.0" text-anchor="end">10<tspan font-size="6.6" dy="-2.70">-1</tspan></text>
<text transform="translate(27.7,343.3) rotate(-90)" font-size="11.2" text-anchor="middle">Surviving Fraction</text>
<text x="117.60" y="461.20" font-size="15.2" text-anchor="middle" fill="#000" >Dose (Gy)</text>
<text transform="translate(2.6,256.7) scale(1.08,1)" font-size="15.8" font-weight="bold">C</text>
<path d="M43.20,275.60 L44.66,275.70 L46.13,275.83 L47.59,275.97 L49.05,276.13 L50.52,276.30 L51.98,276.50 L53.45,276.72 L54.91,276.95 L56.37,277.21 L57.84,277.49 L59.30,277.79 L60.76,278.10 L62.23,278.45 L63.69,278.81 L65.16,279.19 L66.62,279.60 L68.08,280.03 L69.55,280.48 L71.01,280.96 L72.47,281.46 L73.94,281.98 L75.40,282.53 L76.87,283.10 L78.33,283.70 L79.79,284.32 L81.26,284.97 L82.72,285.65 L84.18,286.35 L85.65,287.08 L87.11,287.83 L88.57,288.61 L90.04,289.42 L91.50,290.26 L92.97,291.13 L94.43,292.02 L95.89,292.94 L97.36,293.90 L98.82,294.88 L100.28,295.89 L101.75,296.93 L103.21,298.01 L104.68,299.11 L106.14,300.24 L107.60,301.41 L109.07,302.61 L110.53,303.84 L111.99,305.10 L113.46,306.40 L114.92,307.73 L116.38,309.09 L117.85,310.49 L119.31,311.92 L120.78,313.38 L122.24,314.88 L123.70,316.41 L125.17,317.98 L126.63,319.59 L128.09,321.23 L129.56,322.91 L131.02,324.62 L132.49,326.37 L133.95,328.16 L135.41,329.99 L136.88,331.85 L138.34,333.75 L139.80,335.70 L141.27,337.68 L142.73,339.70 L144.20,341.76 L145.66,343.85" fill="none" stroke="#000" stroke-width="1.3" stroke-dasharray="1.6,1.6"/>
<path d="M43.20,275.60 L44.66,275.77 L46.13,275.97 L47.59,276.21 L49.05,276.49 L50.52,276.80 L51.98,277.14 L53.45,277.53 L54.91,277.94 L56.37,278.39 L57.84,278.88 L59.30,279.40 L60.76,279.96 L62.23,280.55 L63.69,281.18 L65.16,281.84 L66.62,282.54 L68.08,283.27 L69.55,284.04 L71.01,284.84 L72.47,285.68 L73.94,286.55 L75.40,287.46 L76.87,288.40 L78.33,289.38 L79.79,290.40 L81.26,291.45 L82.72,292.53 L84.18,293.65 L85.65,294.81 L87.11,296.00 L88.57,297.23 L90.04,298.49 L91.50,299.78 L92.97,301.11 L94.43,302.48 L95.89,303.88 L97.36,305.32 L98.82,306.79 L100.28,308.30 L101.75,309.84 L103.21,311.42 L104.68,313.03 L106.14,314.68 L107.60,316.37 L109.07,318.09 L110.53,319.84 L111.99,321.63 L113.46,323.45 L114.92,325.31 L116.38,327.21 L117.85,329.14 L119.31,331.10 L120.78,333.10 L122.24,335.14 L123.70,337.21 L125.17,339.32 L126.63,341.46 L128.09,343.64 L129.56,345.85 L131.02,348.09 L132.49,350.38 L133.95,352.69 L135.41,355.05 L136.88,357.44 L138.34,359.86 L139.80,362.32 L141.27,364.81 L142.73,367.34 L144.20,369.90 L145.66,372.50" fill="none" stroke="#a0a0a0" stroke-width="1.4"/>
<path d="M43.20,275.60 L44.66,277.49 L46.13,279.37 L47.59,281.24 L49.05,283.09 L50.52,284.93 L51.98,286.75 L53.45,288.56 L54.91,290.36 L56.37,292.14 L57.84,293.91 L59.30,295.67 L60.76,297.41 L62.23,299.14 L63.69,300.85 L65.16,302.55 L66.62,304.24 L68.08,305.91 L69.55,307.57 L71.01,309.21 L72.47,310.85 L73.94,312.46 L75.40,314.07 L76.87,315.66 L78.33,317.23 L79.79,318.79 L81.26,320.34 L82.72,321.88 L84.18,323.40 L85.65,324.90 L87.11,326.40 L88.57,327.87 L90.04,329.34 L91.50,330.79 L92.97,332.23 L94.43,333.65 L95.89,335.06 L97.36,336.46 L98.82,337.84 L100.28,339.21 L101.75,340.56 L103.21,341.90 L104.68,343.23 L106.14,344.55 L107.60,345.84 L109.07,347.13 L110.53,348.40 L111.99,349.66 L113.46,350.90 L114.92,352.13 L116.38,353.35 L117.85,354.55 L119.31,355.74 L120.78,356.92 L122.24,358.08 L123.70,359.23 L125.17,360.36 L126.63,361.48 L128.09,362.58 L129.56,363.68 L131.02,364.75 L132.49,365.82 L133.95,366.87 L135.41,367.91 L136.88,368.93 L138.34,369.94 L139.80,370.93 L141.27,371.92 L142.73,372.88 L144.20,373.84 L145.66,374.78" fill="none" stroke="#000" stroke-width="1.7"/>
<line x1="60.80" y1="272.00" x2="60.80" y2="283.00" stroke="#aaa" stroke-width="1.0" />
<line x1="58.20" y1="272.00" x2="63.40" y2="272.00" stroke="#aaa" stroke-width="1.0" />
<line x1="58.20" y1="283.00" x2="63.40" y2="283.00" stroke="#aaa" stroke-width="1.0" />
<line x1="60.80" y1="294.40" x2="60.80" y2="314.20" stroke="#444" stroke-width="1.0" />
<line x1="58.20" y1="294.40" x2="63.40" y2="294.40" stroke="#444" stroke-width="1.0" />
<line x1="58.20" y1="314.20" x2="63.40" y2="314.20" stroke="#444" stroke-width="1.0" />
<line x1="60.80" y1="284.10" x2="60.80" y2="295.70" stroke="#111" stroke-width="1.0" />
<line x1="58.20" y1="284.10" x2="63.40" y2="284.10" stroke="#111" stroke-width="1.0" />
<line x1="58.20" y1="295.70" x2="63.40" y2="295.70" stroke="#111" stroke-width="1.0" />
<line x1="77.10" y1="285.40" x2="77.10" y2="295.70" stroke="#aaa" stroke-width="1.0" />
<line x1="74.50" y1="285.40" x2="79.70" y2="285.40" stroke="#aaa" stroke-width="1.0" />
<line x1="74.50" y1="295.70" x2="79.70" y2="295.70" stroke="#aaa" stroke-width="1.0" />
<line x1="77.10" y1="302.10" x2="77.10" y2="331.20" stroke="#444" stroke-width="1.0" />
<line x1="74.50" y1="302.10" x2="79.70" y2="302.10" stroke="#444" stroke-width="1.0" />
<line x1="74.50" y1="331.20" x2="79.70" y2="331.20" stroke="#444" stroke-width="1.0" />
<line x1="77.10" y1="272.60" x2="77.10" y2="289.30" stroke="#111" stroke-width="1.0" />
<line x1="74.50" y1="272.60" x2="79.70" y2="272.60" stroke="#111" stroke-width="1.0" />
<line x1="74.50" y1="289.30" x2="79.70" y2="289.30" stroke="#111" stroke-width="1.0" />
<line x1="94.90" y1="291.90" x2="94.90" y2="316.30" stroke="#aaa" stroke-width="1.0" />
<line x1="92.30" y1="291.90" x2="97.50" y2="291.90" stroke="#aaa" stroke-width="1.0" />
<line x1="92.30" y1="316.30" x2="97.50" y2="316.30" stroke="#aaa" stroke-width="1.0" />
<line x1="94.90" y1="316.30" x2="94.90" y2="346.30" stroke="#444" stroke-width="1.0" />
<line x1="92.30" y1="316.30" x2="97.50" y2="316.30" stroke="#444" stroke-width="1.0" />
<line x1="92.30" y1="346.30" x2="97.50" y2="346.30" stroke="#444" stroke-width="1.0" />
<line x1="94.90" y1="278.50" x2="94.90" y2="298.30" stroke="#111" stroke-width="1.0" />
<line x1="92.30" y1="278.50" x2="97.50" y2="278.50" stroke="#111" stroke-width="1.0" />
<line x1="92.30" y1="298.30" x2="97.50" y2="298.30" stroke="#111" stroke-width="1.0" />
<line x1="111.20" y1="288.00" x2="111.20" y2="340.70" stroke="#aaa" stroke-width="1.0" />
<line x1="108.60" y1="288.00" x2="113.80" y2="288.00" stroke="#aaa" stroke-width="1.0" />
<line x1="108.60" y1="340.70" x2="113.80" y2="340.70" stroke="#aaa" stroke-width="1.0" />
<line x1="111.20" y1="317.60" x2="111.20" y2="368.50" stroke="#444" stroke-width="1.0" />
<line x1="108.60" y1="317.60" x2="113.80" y2="317.60" stroke="#444" stroke-width="1.0" />
<line x1="108.60" y1="368.50" x2="113.80" y2="368.50" stroke="#444" stroke-width="1.0" />
<line x1="111.20" y1="299.60" x2="111.20" y2="322.70" stroke="#111" stroke-width="1.0" />
<line x1="108.60" y1="299.60" x2="113.80" y2="299.60" stroke="#111" stroke-width="1.0" />
<line x1="108.60" y1="322.70" x2="113.80" y2="322.70" stroke="#111" stroke-width="1.0" />
<line x1="145.50" y1="361.30" x2="145.50" y2="372.80" stroke="#aaa" stroke-width="1.0" />
<line x1="142.90" y1="361.30" x2="148.10" y2="361.30" stroke="#aaa" stroke-width="1.0" />
<line x1="142.90" y1="372.80" x2="148.10" y2="372.80" stroke="#aaa" stroke-width="1.0" />
<line x1="145.50" y1="369.00" x2="145.50" y2="385.70" stroke="#444" stroke-width="1.0" />
<line x1="142.90" y1="369.00" x2="148.10" y2="369.00" stroke="#444" stroke-width="1.0" />
<line x1="142.90" y1="385.70" x2="148.10" y2="385.70" stroke="#444" stroke-width="1.0" />
<line x1="145.50" y1="331.20" x2="145.50" y2="354.80" stroke="#111" stroke-width="1.0" />
<line x1="142.90" y1="331.20" x2="148.10" y2="331.20" stroke="#111" stroke-width="1.0" />
<line x1="142.90" y1="354.80" x2="148.10" y2="354.80" stroke="#111" stroke-width="1.0" />
<rect x="58.30" y="277.10" width="5.00" height="5.00" fill="#9a9a9a"/>
<path d="M58.05,292.93 L63.55,292.93 L60.80,288.52 Z" fill="#000"/>
<circle cx="60.80" cy="304.80" r="2.50" fill="#000"/>
<rect x="74.60" y="288.20" width="5.00" height="5.00" fill="#9a9a9a"/>
<path d="M74.35,283.73 L79.85,283.73 L77.10,279.32 Z" fill="#000"/>
<circle cx="77.10" cy="316.30" r="2.50" fill="#000"/>
<rect x="92.40" y="301.10" width="5.00" height="5.00" fill="#9a9a9a"/>
<path d="M92.15,290.53 L97.65,290.53 L94.90,286.12 Z" fill="#000"/>
<circle cx="94.90" cy="331.20" r="2.50" fill="#000"/>
<rect x="108.70" y="315.90" width="5.00" height="5.00" fill="#9a9a9a"/>
<path d="M108.45,313.03 L113.95,313.03 L111.20,308.62 Z" fill="#000"/>
<circle cx="111.20" cy="342.00" r="2.50" fill="#000"/>
<rect x="143.00" y="366.70" width="5.00" height="5.00" fill="#9a9a9a"/>
<path d="M142.75,344.93 L148.25,344.93 L145.50,340.52 Z" fill="#000"/>
<circle cx="145.50" cy="375.90" r="2.50" fill="#000"/>
<circle cx="43.20" cy="275.60" r="2.40" fill="#000"/>
<circle cx="150.60" cy="284.00" r="2.30" fill="#000"/>
<text x="159.30" y="287.30" font-size="9.2" text-anchor="start" fill="#000" >HL60</text>
<line x1="186.10" y1="284.00" x2="196.00" y2="284.00" stroke="#000" stroke-width="1.6" />
<text x="199.80" y="287.30" font-size="9.2" text-anchor="start" fill="#000" >HL60</text>
<rect x="148.30" y="291.75" width="4.60" height="4.60" fill="#9a9a9a"/>
<text x="159.30" y="297.35" font-size="9.2" text-anchor="start" fill="#000" >RA5</text>
<line x1="186.10" y1="294.05" x2="196.00" y2="294.05" stroke="#aaa" stroke-width="1.3" />
<text x="199.80" y="297.35" font-size="9.2" text-anchor="start" fill="#000" >RA5</text>
<path d="M148.07,305.87 L153.13,305.87 L150.60,301.82 Z" fill="#000"/>
<text x="159.30" y="307.40" font-size="9.2" text-anchor="start" fill="#000" >RG2</text>
<line x1="186.10" y1="304.10" x2="196.00" y2="304.10" stroke="#000" stroke-width="1.2" stroke-dasharray="1.8,1.6"/>
<text x="199.80" y="307.40" font-size="9.2" text-anchor="start" fill="#000" >RG2</text>
<text transform="translate(262.8,256.6) scale(1.08,1)" font-size="15.8" font-weight="bold">D</text>
<line x1="334.00" y1="385.68" x2="334.00" y2="379.47" stroke="#333" stroke-width="1.1" />
<line x1="329.00" y1="379.47" x2="339.00" y2="379.47" stroke="#333" stroke-width="1.2" />
<rect x="324.30" y="385.68" width="19.40" height="45.62" fill="#000" stroke="#000" stroke-width="1.6"/>
<line x1="362.30" y1="376.92" x2="362.30" y2="372.63" stroke="#333" stroke-width="1.1" />
<line x1="357.30" y1="372.63" x2="367.30" y2="372.63" stroke="#333" stroke-width="1.2" />
<rect x="352.60" y="376.92" width="19.40" height="54.38" fill="#989898" stroke="#000" stroke-width="1.6"/>
<line x1="390.60" y1="344.61" x2="390.60" y2="339.14" stroke="#333" stroke-width="1.1" />
<line x1="385.60" y1="339.14" x2="395.60" y2="339.14" stroke="#333" stroke-width="1.2" />
<rect x="380.90" y="344.61" width="19.40" height="86.69" fill="#989898" stroke="#000" stroke-width="1.6"/>
<line x1="418.90" y1="341.60" x2="418.90" y2="340.69" stroke="#333" stroke-width="1.1" />
<line x1="413.90" y1="340.69" x2="423.90" y2="340.69" stroke="#333" stroke-width="1.2" />
<rect x="409.20" y="341.60" width="19.40" height="89.70" fill="#989898" stroke="#000" stroke-width="1.6"/>
<line x1="446.80" y1="339.59" x2="446.80" y2="323.62" stroke="#333" stroke-width="1.1" />
<line x1="441.80" y1="323.62" x2="451.80" y2="323.62" stroke="#333" stroke-width="1.2" />
<rect x="437.10" y="339.59" width="19.40" height="91.71" fill="#fff" stroke="#000" stroke-width="1.6"/>
<line x1="475.20" y1="354.10" x2="475.20" y2="353.28" stroke="#333" stroke-width="1.1" />
<line x1="470.20" y1="353.28" x2="480.20" y2="353.28" stroke="#333" stroke-width="1.2" />
<rect x="465.50" y="354.10" width="19.40" height="77.20" fill="#fff" stroke="#000" stroke-width="1.6"/>
<line x1="503.50" y1="349.91" x2="503.50" y2="332.11" stroke="#333" stroke-width="1.1" />
<line x1="498.50" y1="332.11" x2="508.50" y2="332.11" stroke="#333" stroke-width="1.2" />
<rect x="493.80" y="349.91" width="19.40" height="81.39" fill="#fff" stroke="#000" stroke-width="1.6"/>
<line x1="320.00" y1="321.00" x2="320.00" y2="432.20" stroke="#000" stroke-width="1.8" />
<line x1="319.10" y1="431.30" x2="517.80" y2="431.30" stroke="#000" stroke-width="1.8" />
<line x1="316.20" y1="431.30" x2="320.00" y2="431.30" stroke="#000" stroke-width="1.25" />
<text x="316.30" y="434.40" font-size="8.6" text-anchor="end" fill="#000" >0</text>
<line x1="316.20" y1="422.18" x2="320.00" y2="422.18" stroke="#000" stroke-width="1.25" />
<text x="316.30" y="425.28" font-size="8.6" text-anchor="end" fill="#000" >10</text>
<line x1="316.20" y1="413.05" x2="320.00" y2="413.05" stroke="#000" stroke-width="1.25" />
<text x="316.30" y="416.15" font-size="8.6" text-anchor="end" fill="#000" >20</text>
<line x1="316.20" y1="403.93" x2="320.00" y2="403.93" stroke="#000" stroke-width="1.25" />
<text x="316.30" y="407.03" font-size="8.6" text-anchor="end" fill="#000" >30</text>
<line x1="316.20" y1="394.80" x2="320.00" y2="394.80" stroke="#000" stroke-width="1.25" />
<text x="316.30" y="397.90" font-size="8.6" text-anchor="end" fill="#000" >40</text>
<line x1="316.20" y1="385.68" x2="320.00" y2="385.68" stroke="#000" stroke-width="1.25" />
<text x="316.30" y="388.78" font-size="8.6" text-anchor="end" fill="#000" >50</text>
<line x1="316.20" y1="376.55" x2="320.00" y2="376.55" stroke="#000" stroke-width="1.25" />
<text x="316.30" y="379.65" font-size="8.6" text-anchor="end" fill="#000" >60</text>
<line x1="316.20" y1="367.43" x2="320.00" y2="367.43" stroke="#000" stroke-width="1.25" />
<text x="316.30" y="370.53" font-size="8.6" text-anchor="end" fill="#000" >70</text>
<line x1="316.20" y1="358.30" x2="320.00" y2="358.30" stroke="#000" stroke-width="1.25" />
<text x="316.30" y="361.40" font-size="8.6" text-anchor="end" fill="#000" >80</text>
<line x1="316.20" y1="349.18" x2="320.00" y2="349.18" stroke="#000" stroke-width="1.25" />
<text x="316.30" y="352.28" font-size="8.6" text-anchor="end" fill="#000" >90</text>
<line x1="316.20" y1="340.05" x2="320.00" y2="340.05" stroke="#000" stroke-width="1.25" />
<text x="316.30" y="343.15" font-size="8.6" text-anchor="end" fill="#000" >100</text>
<line x1="316.20" y1="330.93" x2="320.00" y2="330.93" stroke="#000" stroke-width="1.25" />
<text x="316.30" y="334.03" font-size="8.6" text-anchor="end" fill="#000" >110</text>
<line x1="316.20" y1="321.80" x2="320.00" y2="321.80" stroke="#000" stroke-width="1.25" />
<text x="316.30" y="324.90" font-size="8.6" text-anchor="end" fill="#000" >120</text>
<line x1="334.00" y1="431.30" x2="334.00" y2="435.00" stroke="#000" stroke-width="1.25" />
<text transform="translate(331.60,437.70) rotate(-45)" font-size="8.3" text-anchor="end" dominant-baseline="hanging">HL60</text>
<line x1="362.30" y1="431.30" x2="362.30" y2="435.00" stroke="#000" stroke-width="1.25" />
<text transform="translate(359.90,437.70) rotate(-45)" font-size="8.3" text-anchor="end" dominant-baseline="hanging">RA2</text>
<line x1="390.60" y1="431.30" x2="390.60" y2="435.00" stroke="#000" stroke-width="1.25" />
<text transform="translate(388.20,437.70) rotate(-45)" font-size="8.3" text-anchor="end" dominant-baseline="hanging">RA5</text>
<line x1="418.90" y1="431.30" x2="418.90" y2="435.00" stroke="#000" stroke-width="1.25" />
<text transform="translate(416.50,437.70) rotate(-45)" font-size="8.3" text-anchor="end" dominant-baseline="hanging">RA8</text>
<line x1="446.80" y1="431.30" x2="446.80" y2="435.00" stroke="#000" stroke-width="1.25" />
<text transform="translate(444.40,437.70) rotate(-45)" font-size="8.3" text-anchor="end" dominant-baseline="hanging">RG1</text>
<line x1="475.20" y1="431.30" x2="475.20" y2="435.00" stroke="#000" stroke-width="1.25" />
<text transform="translate(472.80,437.70) rotate(-45)" font-size="8.3" text-anchor="end" dominant-baseline="hanging">RG2</text>
<line x1="503.50" y1="431.30" x2="503.50" y2="435.00" stroke="#000" stroke-width="1.25" />
<text transform="translate(501.10,437.70) rotate(-45)" font-size="8.3" text-anchor="end" dominant-baseline="hanging">RG4</text>
<text transform="translate(295.7,373.4) rotate(-90)" font-size="12.2" text-anchor="middle">% Survival</text>
<text x="280.70" y="300.20" font-size="8.6" text-anchor="start" fill="#000" >Dose (Gy): 0.23</text>
<text x="359.20" y="300.20" font-size="8.6" text-anchor="middle" fill="#000" >0.22</text>
<text x="389.90" y="300.20" font-size="8.6" text-anchor="middle" fill="#000" >0.22</text>
<text x="416.50" y="300.20" font-size="8.6" text-anchor="middle" fill="#000" >0.23</text>
<text x="445.70" y="300.20" font-size="8.6" text-anchor="middle" fill="#000" >0.23</text>
<text x="474.10" y="300.20" font-size="8.6" text-anchor="middle" fill="#000" >0.23</text>
<text x="503.40" y="300.20" font-size="8.6" text-anchor="middle" fill="#000" >0.23</text>
<circle cx="390.20" cy="314.4" r="0.95" fill="#888"/>
<circle cx="416.80" cy="314.4" r="0.95" fill="#888"/>
<circle cx="446.00" cy="314.4" r="0.95" fill="#000"/>
<circle cx="474.40" cy="314.4" r="0.95" fill="#000"/>
<circle cx="503.70" cy="314.4" r="0.95" fill="#000"/>
</svg>
</body></html>
